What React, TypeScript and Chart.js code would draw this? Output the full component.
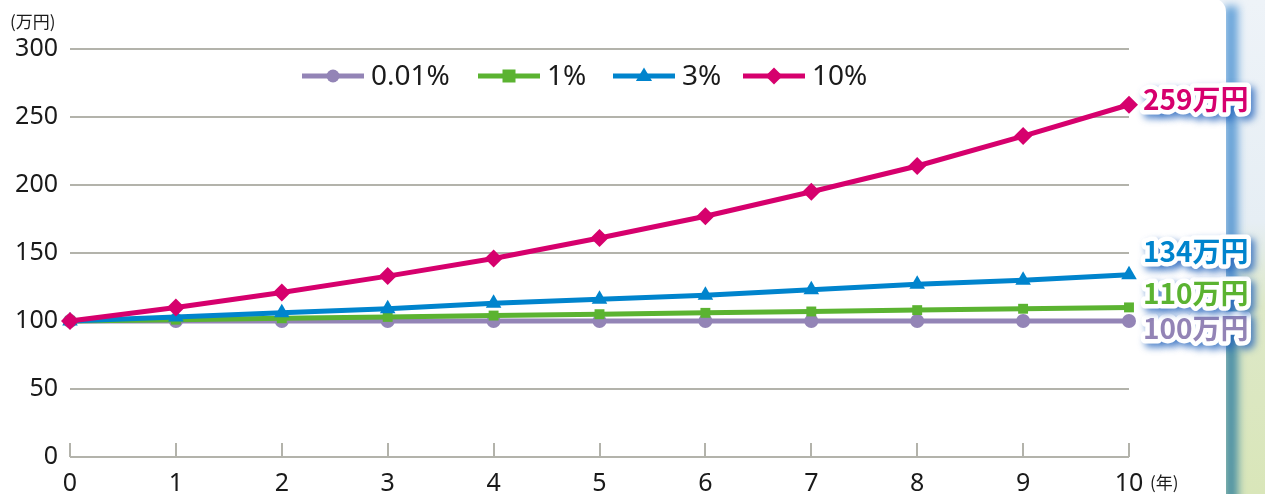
import React, { useEffect, useRef } from "react";
import { Chart, registerables } from "chart.js";

Chart.register(...registerables);

const years = ["0", "1", "2", "3", "4", "5", "6", "7", "8", "9", "10"];
const rate001 = [100, 100, 100, 100, 100, 100, 100, 100, 100, 100, 100];
const rate1 = [100, 101, 102, 103, 104, 105, 106, 107, 108, 109, 110];
const rate3 = [100, 103, 106, 109, 113, 116, 119, 123, 127, 130, 134];
const rate10 = [100, 110, 121, 133, 146, 161, 177, 195, 214, 236, 259];
const seriesNames = ["0.01%", "1%", "3%", "10%"];
const endLabels = ["100万円", "110万円", "134万円", "259万円"];
const endLabelShift = [7, -14, -23, -5];
const colors = ["#9384b6", "#5bb331", "#0084cd", "#d6006d"];
const markers = ["circle", "rect", "triangle", "rectRot"];
const markerSizes = [7, 7, 9, 9];
const yUnit = "(万円)";
const xUnit = "(年)";

const TICK_FONT = '"Noto Sans", "Noto Sans CJK JP", sans-serif';
const CJK_FONT = '"Noto Sans CJK JP", "Noto Sans", sans-serif';
const LEGEND_X = [302, 478, 613, 743];

function drawMarker(ctx: CanvasRenderingContext2D, style: string, x: number, y: number, r: number, color: string) {
  ctx.save();
  ctx.fillStyle = color;
  ctx.beginPath();
  if (style === "circle") {
    ctx.arc(x, y, r, 0, Math.PI * 2);
  } else if (style === "rect") {
    ctx.rect(x - r, y - r, r * 2, r * 2);
  } else if (style === "triangle") {
    ctx.moveTo(x, y - r);
    ctx.lineTo(x + r * 0.95, y + r * 0.6);
    ctx.lineTo(x - r * 0.95, y + r * 0.6);
    ctx.closePath();
  } else {
    ctx.moveTo(x, y - r);
    ctx.lineTo(x + r, y);
    ctx.lineTo(x, y + r);
    ctx.lineTo(x - r, y);
    ctx.closePath();
  }
  ctx.fill();
  ctx.restore();
}

const decorPlugin = {
  id: "decor",
  beforeDatasetsDraw(chart: any) {
    const { ctx, scales } = chart;
    const xs = scales.x;
    const bottom = chart.chartArea.bottom;
    ctx.save();
    ctx.strokeStyle = "#b3b3ab";
    ctx.lineWidth = 2;
    for (let i = 0; i < years.length; i++) {
      const px = Math.round(xs.getPixelForTick(i));
      ctx.beginPath();
      ctx.moveTo(px, bottom);
      ctx.lineTo(px, bottom - 14);
      ctx.stroke();
    }
    ctx.restore();
  },
  afterDraw(chart: any) {
    const { ctx, chartArea } = chart;
    ctx.save();
    // unit labels
    ctx.fillStyle = "#1a1a1a";
    ctx.font = `17px ${CJK_FONT}`;
    ctx.textBaseline = "middle";
    ctx.textAlign = "left";
    ctx.fillText(yUnit, 10, 22);
    ctx.fillText(xUnit, chartArea.right + 21, 483);

    // legend
    const ly = 76;
    ctx.font = `28px ${TICK_FONT}`;
    for (let i = 0; i < seriesNames.length; i++) {
      const lx = LEGEND_X[i];
      ctx.strokeStyle = colors[i];
      ctx.lineWidth = 5;
      ctx.beginPath();
      ctx.moveTo(lx, ly);
      ctx.lineTo(lx + 62, ly);
      ctx.stroke();
      drawMarker(ctx, markers[i], lx + 31, ly, i >= 2 ? 8.5 : 6.5, colors[i]);
      ctx.fillStyle = "#1a1a1a";
      ctx.textAlign = "left";
      ctx.fillText(seriesNames[i], lx + 69, ly + 1);
    }

    // end labels
    const metas = [0, 1, 2, 3].map((i) => chart.getDatasetMeta(i));
    ctx.font = `bold 28px ${CJK_FONT}`;
    ctx.textAlign = "left";
    ctx.lineJoin = "round";
    for (let i = 0; i < endLabels.length; i++) {
      const pts = metas[i].data;
      const last = pts[pts.length - 1];
      const y = last.y + endLabelShift[i];
      const x = 1143;
      ctx.save();
      ctx.shadowColor = "rgba(30,95,185,0.75)";
      ctx.shadowBlur = 7;
      ctx.shadowOffsetX = 4;
      ctx.shadowOffsetY = 4;
      ctx.strokeStyle = "#ffffff";
      ctx.lineWidth = 9;
      ctx.strokeText(endLabels[i], x, y);
      ctx.restore();
      ctx.fillStyle = colors[i];
      ctx.fillText(endLabels[i], x, y);
    }
    ctx.restore();
  },
};

export default function App() {
  const ref = useRef<HTMLCanvasElement | null>(null);

  useEffect(() => {
    if (!ref.current) return;
    const series = [rate001, rate1, rate3, rate10];
    const chart = new Chart(ref.current, {
      type: "line",
      data: {
        labels: years,
        datasets: series.map((d, i) => ({
          label: seriesNames[i],
          data: d,
          borderColor: colors[i],
          backgroundColor: colors[i],
          borderWidth: 5,
          pointStyle: markers[i] as any,
          pointRadius: markerSizes[i],
          pointHoverRadius: markerSizes[i],
          pointBorderWidth: 0,
          tension: 0,
          clip: false as any,
          order: 3 - i,
        })),
      },
      options: {
        animation: false,
        responsive: false,
        maintainAspectRatio: false,
        layout: { padding: { top: 49, right: 136, left: 0, bottom: 0 } },
        plugins: {
          legend: { display: false },
          tooltip: { enabled: false },
        },
        scales: {
          x: {
            type: "category",
            offset: false,
            grid: { display: false, drawTicks: false },
            border: { display: false },
            ticks: {
              color: "#1a1a1a",
              font: { family: TICK_FONT, size: 25 },
              padding: 12,
              maxRotation: 0,
              autoSkip: false,
            },
            afterFit: (s: any) => {
              s.height = 37;
            },
          },
          y: {
            min: 0,
            max: 300,
            grid: { color: "#b3b3ab", lineWidth: 2, drawTicks: false },
            border: { display: false },
            ticks: {
              stepSize: 50,
              color: "#1a1a1a",
              font: { family: TICK_FONT, size: 25 },
              padding: 12,
            },
            afterFit: (s: any) => {
              s.width = 70;
            },
          },
        },
      },
      plugins: [decorPlugin],
    });
    return () => chart.destroy();
  }, []);

  return (
    <div
      style={{
        position: "absolute",
        left: 0,
        top: 0,
        width: 1265,
        height: 494,
        overflow: "hidden",
        background:
          "linear-gradient(180deg, #eef3f8 0%, #e6eef4 45%, #dde8c8 62%, #d9e6b9 100%)",
      }}
    >
      <div
        style={{
          position: "absolute",
          left: 1224,
          top: 6,
          width: 14,
          height: 500,
          background: "linear-gradient(180deg, #6aa5da 0%, #5f9bd2 55%, #4a8ea8 65%, #4f93a2 100%)",
          filter: "blur(4px)",
        }}
      />
      <div
        style={{
          position: "absolute",
          left: 0,
          top: -2,
          width: 1226,
          height: 500,
          background: "#ffffff",
          borderTopRightRadius: 14,
        }}
      />
      <canvas
        ref={ref}
        width={1265}
        height={494}
        style={{ position: "absolute", left: 0, top: 0, width: 1265, height: 494 }}
      />
    </div>
  );
}
